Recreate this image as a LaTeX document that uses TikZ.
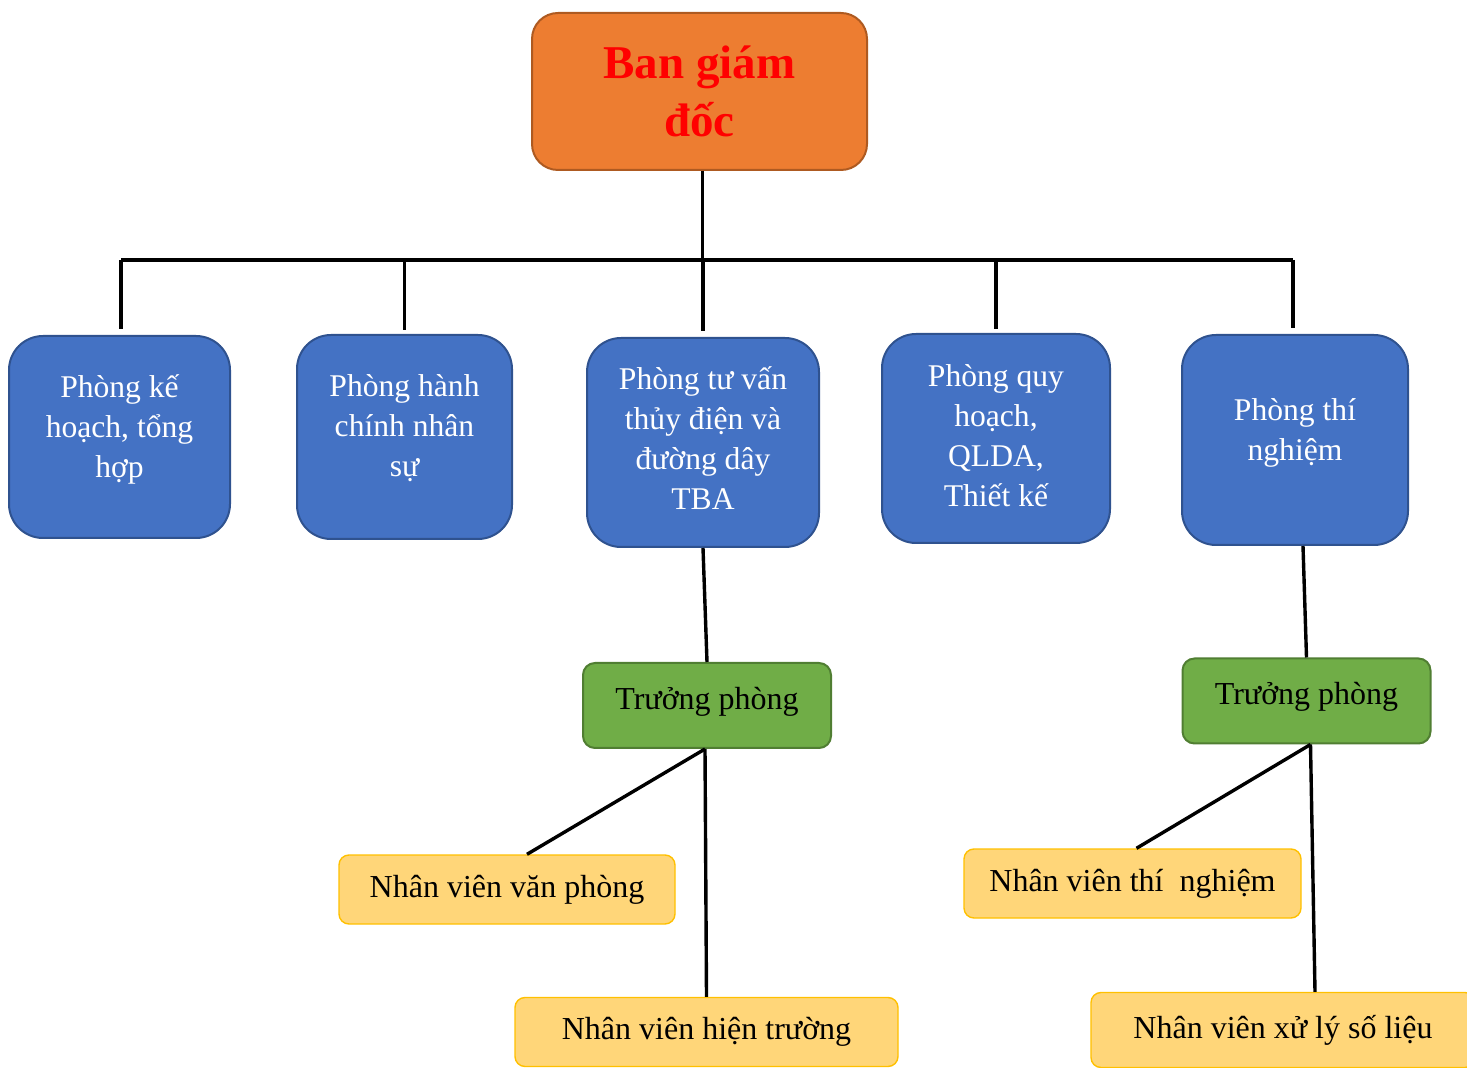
\documentclass[tikz,border=0pt]{standalone}
\usepackage{fontspec}
\setmainfont{Liberation Serif}
\definecolor{camfill}{HTML}{ED7D31}
\definecolor{camvien}{HTML}{AE5A21}
\definecolor{xanhfill}{HTML}{4472C4}
\definecolor{xanhvien}{HTML}{2F528F}
\definecolor{lucfill}{HTML}{70AD47}
\definecolor{lucvien}{HTML}{507E32}
\definecolor{vangfill}{HTML}{FFD679}
\definecolor{vangvien}{HTML}{FFC000}
\begin{document}
\begin{tikzpicture}[x=0.5pt,y=-0.5pt,
  bangd/.style={draw=camvien,fill=camfill,line width=1pt,rounded corners=13pt,
    inner sep=0pt,align=center,text=red,
    font=\fontsize{23.5}{29}\selectfont\bfseries},
  phong/.style={draw=xanhvien,fill=xanhfill,line width=1pt,rounded corners=17pt,
    inner sep=0pt,align=center,text=white,font=\fontsize{15.8}{20}\selectfont},
  truong/.style={draw=lucvien,fill=lucfill,line width=1pt,rounded corners=6pt,
    inner sep=0pt,minimum width=124pt,minimum height=42.5pt,text depth=7.4pt,
    font=\fontsize{16}{19}\selectfont},
  nhanvien/.style={draw=vangvien,fill=vangfill,line width=0.7pt,rounded corners=5pt,
    inner sep=0pt,minimum height=34.5pt,font=\fontsize{16}{19}\selectfont},
  noi/.style={line width=1.7pt,black}]
\useasboundingbox (0,0) rectangle (1467,1068);
% Ban giám đốc
\node[bangd,minimum width=167.5pt,minimum height=78.5pt] (bgd) at (699.5,91.5) {Ban giám\\đốc};
% Các phòng
\node[phong,minimum width=110.5pt,minimum height=101pt,text depth=11.4pt] (pkh) at (119.5,437) {Phòng kế\\hoạch, tổng\\hợp};
\node[phong,minimum width=107.5pt,minimum height=102pt,text depth=11pt] (phc) at (404.5,437) {Phòng hành\\chính nhân\\sự};
\node[phong,minimum width=116pt,minimum height=104.5pt,text depth=4pt] (ptv) at (703,442.5) {Phòng tư vấn\\thủy điện và\\đường dây\\TBA};
\node[phong,minimum width=114pt,minimum height=104.5pt,text depth=3pt] (pqh) at (996,438.5) {Phòng quy\\hoạch,\\QLDA,\\Thiết kế};
\node[phong,minimum width=113pt,minimum height=105pt,text depth=10.4pt] (ptn) at (1295,440) {Phòng thí\\nghiệm};
% Trưởng phòng
\node[truong] (tp1) at (707,705.5) {Trưởng phòng};
\node[truong] (tp2) at (1306.5,701) {Trưởng phòng};
% Nhân viên
\node[nhanvien,minimum width=168pt] (nvvp) at (507,889.5) {Nhân viên văn phòng};
\node[nhanvien,minimum width=191.5pt] (nvht) at (706.5,1032) {Nhân viên hiện trường};
\node[nhanvien,minimum width=168.5pt] (nvtn) at (1132.5,883.5) {Nhân viên thí\ \ nghiệm};
\node[nhanvien,minimum width=192pt,minimum height=37.5pt] (nvxl) at (1283,1030) {Nhân viên xử lý số liệu};
% Đường nối ngang
\coordinate (trucT) at (121,260);
\coordinate (trucP) at (1293,260);
\draw[noi] ([xshift=1.5pt]bgd.south) -- ([xshift=1.5pt]bgd.south |- trucT);
\draw[noi] (trucT) -- (trucP);
\draw[noi] (trucT) -- ([yshift=3pt]trucT |- pkh.north);
\draw[noi] (phc.north |- trucT) -- ([yshift=2pt]phc.north);
\draw[noi] (ptv.north |- trucT) -- ([yshift=3pt]ptv.north);
\draw[noi] (pqh.north |- trucT) -- ([yshift=2pt]pqh.north);
\draw[noi] (trucP) -- ([yshift=3pt]trucP |- ptn.north);
% Nhánh dưới
\draw[noi] (ptv.south) -- (tp1.north);
\draw[noi] ([xshift=-1pt]tp1.south) -- ([xshift=10pt]nvvp.north);
\draw[noi] ([xshift=-1pt]tp1.south) -- (nvht.north);
\draw[noi] ([xshift=4pt]ptn.south) -- (tp2.north);
\draw[noi] ([xshift=2pt]tp2.south) -- ([xshift=2pt]nvtn.north);
\draw[noi] ([xshift=2pt]tp2.south) -- ([xshift=16pt]nvxl.north);
\end{tikzpicture}
\end{document}
